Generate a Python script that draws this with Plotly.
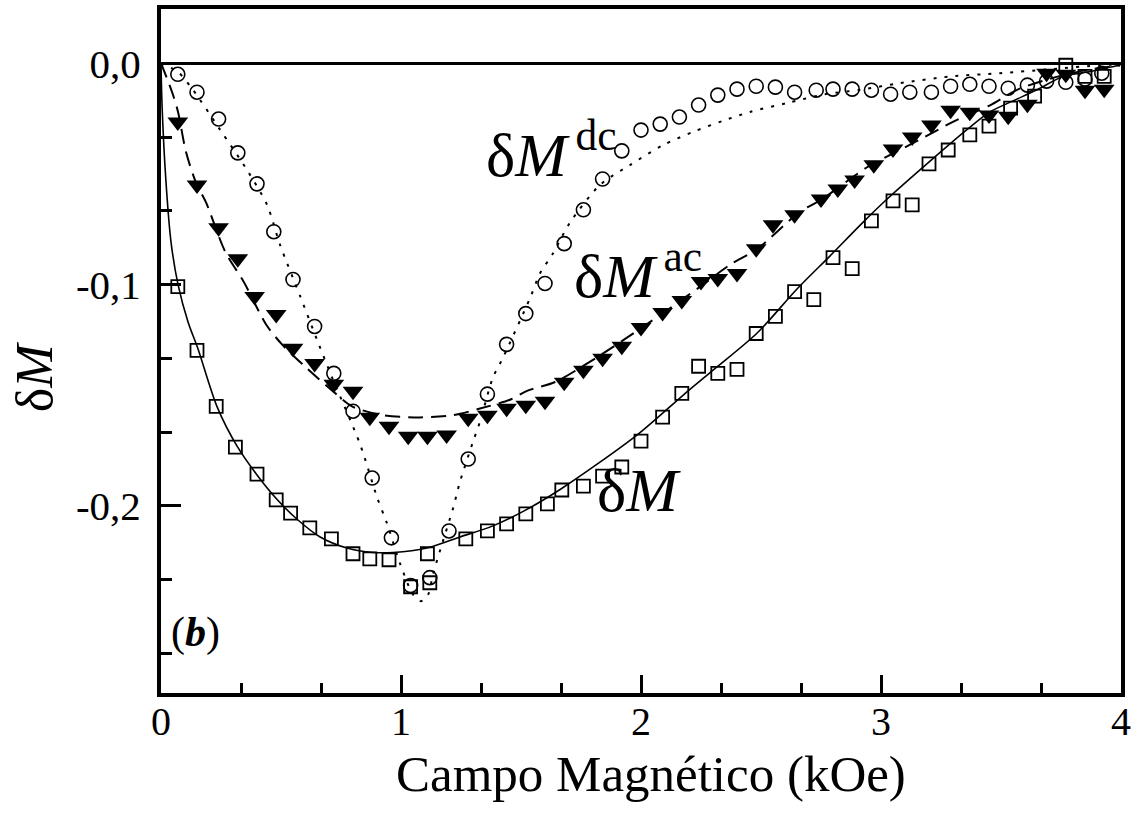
import plotly.graph_objects as go

# ---- measured points -------------------------------------------------------
# field values (kOe) shared by the dc and ac series
field_dc = [0.07, 0.15, 0.24, 0.32, 0.40, 0.47, 0.55, 0.64, 0.72, 0.80, 0.88,
            0.96, 1.04, 1.12, 1.20, 1.28, 1.36, 1.44, 1.52, 1.60, 1.68, 1.76,
            1.84, 1.92, 2.00, 2.08, 2.16, 2.24, 2.32, 2.40, 2.48, 2.56, 2.64,
            2.73, 2.80, 2.88, 2.96, 3.04, 3.12, 3.21, 3.29, 3.37, 3.45, 3.53,
            3.61, 3.69, 3.77, 3.85, 3.92]
dM_dc = [-0.0050, -0.0131, -0.0252, -0.0405, -0.0545, -0.0761, -0.0977,
         -0.1189, -0.1401, -0.1572, -0.1874, -0.2144, -0.2360, -0.2324,
         -0.2113, -0.1788, -0.1495, -0.1270, -0.1131, -0.0995, -0.0815,
         -0.0662, -0.0523, -0.0396, -0.0302, -0.0275, -0.0243, -0.0189,
         -0.0144, -0.0117, -0.0104, -0.0108, -0.0131, -0.0122, -0.0117,
         -0.0117, -0.0122, -0.0140, -0.0131, -0.0131, -0.0104, -0.0095,
         -0.0104, -0.0113, -0.0099, -0.0081, -0.0086, -0.0072, -0.0045]

field_ac = [0.07, 0.15, 0.24, 0.32, 0.39, 0.48, 0.55, 0.64, 0.72, 0.80, 0.87,
            0.95, 1.03, 1.11, 1.19, 1.28, 1.36, 1.44, 1.52, 1.60, 1.68, 1.76,
            1.84, 1.92, 2.00, 2.09, 2.17, 2.25, 2.32, 2.40, 2.48, 2.55, 2.64,
            2.75, 2.82, 2.89, 2.97, 3.05, 3.13, 3.21, 3.29, 3.37, 3.45, 3.53,
            3.61, 3.69, 3.77, 3.85, 3.93]
dM_ac = [-0.0266, -0.0550, -0.0743, -0.0883, -0.1054, -0.1135, -0.1288,
         -0.1356, -0.1450, -0.1482, -0.1599, -0.1640, -0.1685, -0.1685,
         -0.1680, -0.1604, -0.1590, -0.1559, -0.1545, -0.1527, -0.1441,
         -0.1387, -0.1333, -0.1279, -0.1194, -0.1126, -0.1072, -0.0986,
         -0.0973, -0.0950, -0.0838, -0.0730, -0.0685, -0.0613, -0.0568,
         -0.0527, -0.0459, -0.0387, -0.0333, -0.0279, -0.0212, -0.0221,
         -0.0234, -0.0239, -0.0185, -0.0045, -0.0050, -0.0122, -0.0117]

field_dm = [0.07, 0.15, 0.23, 0.31, 0.40, 0.48, 0.54, 0.62, 0.71, 0.80, 0.87,
            0.95, 1.04, 1.11, 1.12, 1.27, 1.36, 1.44, 1.52, 1.61, 1.67, 1.76,
            1.84, 1.92, 2.00, 2.09, 2.17, 2.24, 2.32, 2.40, 2.48, 2.56, 2.64,
            2.72, 2.80, 2.88, 2.96, 3.05, 3.13, 3.20, 3.28, 3.37, 3.45, 3.54,
            3.64, 3.77, 3.85, 3.93]
dM = [-0.1009, -0.1297, -0.1550, -0.1734, -0.1856, -0.1973, -0.2032, -0.2099,
      -0.2149, -0.2216, -0.2239, -0.2243, -0.2365, -0.2216, -0.2347, -0.2149,
      -0.2113, -0.2081, -0.2036, -0.1991, -0.1928, -0.1910, -0.1865, -0.1824,
      -0.1707, -0.1599, -0.1491, -0.1369, -0.1401, -0.1383, -0.1221, -0.1144,
      -0.1032, -0.1068, -0.0878, -0.0928, -0.0712, -0.0622, -0.0640, -0.0455,
      -0.0392, -0.0324, -0.0284, -0.0203, -0.0149, -0.0009, -0.0059, -0.0059]

# ---- fitted curves ---------------------------------------------------------
fit_dc_x = [0.0, 0.071, 0.133, 0.246, 0.363, 0.442, 0.496, 0.579, 0.654,
            0.713, 0.829, 0.900, 0.942, 0.996, 1.050, 1.083, 1.113, 1.133,
            1.163, 1.217, 1.246, 1.300, 1.329, 1.383, 1.425, 1.538, 1.579,
            1.633, 1.704, 1.829, 1.954, 2.092, 2.217, 2.342, 2.454, 2.608,
            2.767, 2.913, 3.079, 3.288, 3.496, 3.704, 3.913, 4.0]
fit_dc_y = [0.0, -0.004, -0.012, -0.030, -0.049, -0.064, -0.082, -0.105,
            -0.126, -0.142, -0.172, -0.196, -0.208, -0.226, -0.240, -0.243,
            -0.240, -0.231, -0.220, -0.201, -0.189, -0.171, -0.162, -0.142,
            -0.133, -0.106, -0.095, -0.086, -0.072, -0.055, -0.046, -0.037,
            -0.031, -0.026, -0.022, -0.018, -0.014, -0.012, -0.009, -0.006,
            -0.0045, -0.0027, -0.0009, -0.0005]

fit_ac_x = [0.0, 0.046, 0.071, 0.104, 0.146, 0.188, 0.267, 0.346, 0.438,
            0.504, 0.600, 0.704, 0.796, 0.925, 1.079, 1.217, 1.329, 1.454,
            1.525, 1.642, 1.829, 1.996, 2.142, 2.246, 2.371, 2.483, 2.663,
            2.746, 2.942, 3.100, 3.204, 3.308, 3.454, 3.567, 3.704, 3.858,
            3.996]
fit_ac_y = [0.0, -0.013, -0.022, -0.040, -0.054, -0.063, -0.085, -0.099,
            -0.118, -0.127, -0.137, -0.147, -0.155, -0.159, -0.160, -0.159,
            -0.156, -0.152, -0.148, -0.144, -0.132, -0.120, -0.109, -0.101,
            -0.091, -0.084, -0.067, -0.062, -0.047, -0.038, -0.032, -0.026,
            -0.019, -0.012, -0.007, -0.003, -0.001]

fit_dm_x = [0.0, 0.004, 0.021, 0.042, 0.071, 0.113, 0.154, 0.233, 0.317,
            0.400, 0.483, 0.567, 0.663, 0.775, 0.883, 0.967, 1.108, 1.246,
            1.383, 1.517, 1.671, 1.983, 2.175, 2.308, 2.483, 2.650, 2.788,
            2.933, 3.029, 3.196, 3.358, 3.454, 3.550, 3.650, 3.758, 3.858,
            3.988]
fit_dm_y = [0.0, -0.018, -0.054, -0.081, -0.100, -0.117, -0.129, -0.155,
            -0.173, -0.186, -0.197, -0.206, -0.214, -0.219, -0.221, -0.221,
            -0.219, -0.214, -0.209, -0.202, -0.192, -0.168, -0.150, -0.138,
            -0.122, -0.102, -0.087, -0.071, -0.061, -0.045, -0.030, -0.022,
            -0.017, -0.012, -0.006, -0.004, -0.001]

y_tickvals = [0.0, -0.1, -0.2]
y_ticktext = ["0,0", "-0,1", "-0,2"]
x_tickvals = [0, 1, 2, 3, 4]
x_ticktext = ["0", "1", "2", "3", "4"]

SERIF = "Liberation Serif, Times New Roman, serif"

fig = go.Figure()

# fitted curves
fig.add_trace(go.Scatter(x=fit_dc_x, y=fit_dc_y, mode="lines",
                         line=dict(color="black", width=2, dash="3px,8px",
                                   shape="spline", smoothing=0.8)))
fig.add_trace(go.Scatter(x=fit_ac_x, y=fit_ac_y, mode="lines",
                         line=dict(color="black", width=2, dash="15px,8px",
                                   shape="spline", smoothing=0.8)))
fig.add_trace(go.Scatter(x=fit_dm_x, y=fit_dm_y, mode="lines",
                         line=dict(color="black", width=1.6,
                                   shape="spline", smoothing=0.8)))

# data points
fig.add_trace(go.Scatter(x=field_dm, y=dM, mode="markers",
                         marker=dict(symbol="square-open", size=13,
                                     color="black", line=dict(width=1.8))))
fig.add_trace(go.Scatter(x=field_dc, y=dM_dc, mode="markers",
                         marker=dict(symbol="circle-open", size=14,
                                     color="black", line=dict(width=1.6))))
fig.add_trace(go.Scatter(x=field_ac, y=dM_ac, mode="markers",
                         marker=dict(symbol="triangle-down", size=18,
                                     color="black", line=dict(width=0))))

# curve labels
label_font = dict(family=SERIF, size=62, color="black")
fig.add_annotation(x=1.345, y=-0.039, xref="x", yref="y", showarrow=False,
                   xanchor="left", yanchor="middle",
                   text="δ<i>M</i><sup>\u2009dc</sup>", font=label_font)
fig.add_annotation(x=1.712, y=-0.094, xref="x", yref="y", showarrow=False,
                   xanchor="left", yanchor="middle",
                   text="δ<i>M</i><sup>\u2009ac</sup>", font=label_font)
fig.add_annotation(x=1.810, y=-0.193, xref="x", yref="y", showarrow=False,
                   xanchor="left", yanchor="middle",
                   text="δ<i>M</i>", font=label_font)
fig.add_annotation(x=0.035, y=-0.257, xref="x", yref="y", showarrow=False,
                   xanchor="left", yanchor="middle",
                   text="(<b><i>b</i></b>)",
                   font=dict(family=SERIF, size=42, color="black"))

# axis titles
fig.add_annotation(x=-0.131, y=0.462, xref="paper", yref="paper",
                   showarrow=False, textangle=-90,
                   xanchor="center", yanchor="middle",
                   text="δ<i>M</i>",
                   font=dict(family=SERIF, size=52, color="black"))
fig.add_annotation(x=0.51, y=-0.119, xref="paper", yref="paper",
                   showarrow=False, xanchor="center", yanchor="middle",
                   text="Campo Magnético (kOe)",
                   font=dict(family=SERIF, size=51, color="black"))

fig.update_xaxes(range=[0, 4], showline=True, linewidth=4, linecolor="black",
                 mirror=True, showgrid=False, zeroline=False,
                 tickvals=x_tickvals, ticktext=x_ticktext,
                 ticks="inside", ticklen=18, tickwidth=3, tickcolor="black",
                 ticklabelstandoff=-10,
                 tickfont=dict(family=SERIF, size=40, color="black"),
                 minor=dict(dtick=1 / 3, tick0=0, ticks="inside", ticklen=10,
                            tickwidth=3, tickcolor="black", showgrid=False))
fig.update_yaxes(range=[-0.2845, 0.0245], showline=True, linewidth=4,
                 linecolor="black", mirror=True, showgrid=False,
                 zeroline=True, zerolinewidth=3, zerolinecolor="black",
                 tickvals=y_tickvals, ticktext=y_ticktext,
                 ticks="inside", ticklen=20, tickwidth=3, tickcolor="black",
                 ticklabelstandoff=8,
                 tickfont=dict(family=SERIF, size=41, color="black"),
                 minor=dict(dtick=0.1 / 3, tick0=0, ticks="inside",
                            ticklen=11, tickwidth=3, tickcolor="black",
                            showgrid=False))

fig.update_layout(width=1139, height=813, showlegend=False,
                  plot_bgcolor="white", paper_bgcolor="white",
                  margin=dict(l=161, r=18, t=5, b=120))

fig.write_html("out.html")
